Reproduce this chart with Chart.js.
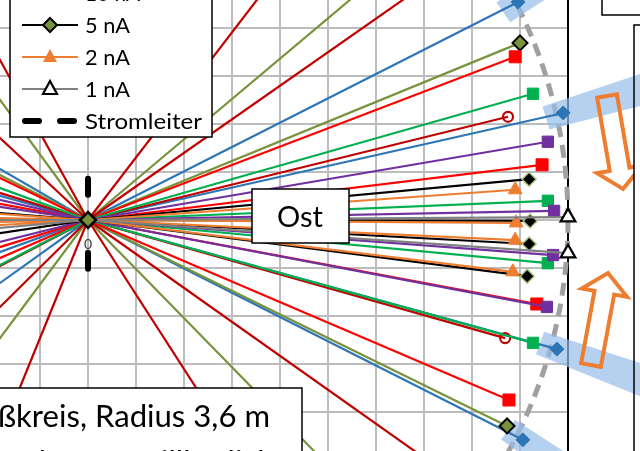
<!DOCTYPE html>
<html>
<head>
<meta charset="utf-8">
<script src="https://cdn.jsdelivr.net/npm/chart.js@4.4.1/dist/chart.umd.min.js"></script>
<style>
  html, body { margin: 0; padding: 0; background: #fff; }
</style>
</head>
<body>
<canvas id="c" width="640" height="451"></canvas>
<script>
// Endpunkte der Zeiger (Einheit = 1 Gitterkästchen, Meßkreis = 10 Kästchen = 3,6 m)
const blauOst = [[8.96, 4.54], [9.90, 2.23], [9.77, -2.69], [9.06, -4.58]];
const blauWest = [[-7.79, 4.51], [-8.68, 2.37], [-8.46, -3.08], [-7.32, -5.24]];
const olivOst = [[6.89, 5.79], [9.00, 3.69], [8.73, -4.29], [6.29, -6.43]];
const olivWest = [[-5.32, 7.26], [-8.01, 4.10], [-5.38, -7.22]];
const rotOst = [[8.90, 3.40], [9.46, 1.15], [9.35, -1.75], [8.77, -3.75]];
const rotWest = [[-8.12, 3.88], [-8.85, 1.61], [-8.60, -2.64], [-8.26, -3.57]];
const dunkelrotOst = [[5.48, 7.14], [7.38, 5.16], [8.75, 2.15], [8.69, -2.46], [7.35, -5.20], [4.87, -7.56]];
const dunkelrotWest = [[-4.34, 7.89], [-6.58, 6.13], [-8.60, 2.64], [-7.98, -4.17], [-6.40, -6.33], [-3.39, -8.34]];
const gruenOst = [[9.27, 2.63], [9.58, 0.40], [9.58, -0.90], [9.27, -2.56]];
const gruenWest = [[-8.46, 3.08], [-8.01, -4.10]];
const violettOst = [[9.58, 1.63], [9.71, 0.19], [9.69, -0.73], [9.56, -1.81]];
const violettWest = [[-8.78, 2.00], [-8.90, 1.33], [-8.73, -2.18]];
const schwarzOst = [[9.19, 0.85], [9.21, -0.02], [9.19, -0.50], [9.15, -1.17]];
const schwarzWest = [[-8.97, 0.71], [-8.90, -1.32]];
const orangeOst = [[8.90, 0.63], [8.92, -0.06], [8.90, -0.42], [8.85, -1.08]];
const orangeWest = [[-8.98, 0.61], [-9.00, 0.20], [-9.00, -0.20], [-8.99, -0.51]];
const grauOst = [[10.0, 0.06], [10.0, -0.69]];
const grauWest = [[-9.00, 0.00], [-8.98, -0.80]];
const stromleiterY = [0.86, -1.05];
const kreisRadius = 10;
const legendLabels = ['10 nA', '5 nA', '2 nA', '1 nA', 'Stromleiter'];

function endpunkte(list) {
    const out = [];
    list.forEach(p => {
        out.push({ x: 0, y: 0 }, { x: p[0], y: p[1] }, { x: null, y: null });
    });
    return out;
}

function serie(label, ost, west, color, marker) {
    return {
        label: label,
        data: endpunkte(ost.concat(west)),
        showLine: true,
        spanGaps: false,
        borderColor: color,
        borderWidth: 2.2,
        clip: false,
        pointStyle: marker.style,
        pointRadius: ctx => (ctx.raw && ctx.raw.x) ? marker.r : 0,
        pointHoverRadius: 0,
        pointBackgroundColor: marker.bg,
        pointBorderColor: marker.border,
        pointBorderWidth: marker.bw
    };
}

function fitText(ctx, text, x, y, px, w, align) {
    ctx.font = px + 'px Lato';
    const m = ctx.measureText(text).width;
    ctx.save();
    ctx.translate(x, y);
    ctx.scale(w / m, 1);
    ctx.textAlign = align || 'left';
    ctx.fillText(text, 0, 0);
    ctx.restore();
}

function pfeil(ctx, base, tip, shaftW, headW, headL) {
    const dx = tip[0] - base[0], dy = tip[1] - base[1];
    const len = Math.hypot(dx, dy);
    const ux = dx / len, uy = dy / len;
    const nx = -uy, ny = ux;
    const neck = [tip[0] - ux * headL, tip[1] - uy * headL];
    const pts = [
        [base[0] + nx * shaftW / 2, base[1] + ny * shaftW / 2],
        [neck[0] + nx * shaftW / 2, neck[1] + ny * shaftW / 2],
        [neck[0] + nx * headW / 2, neck[1] + ny * headW / 2],
        tip,
        [neck[0] - nx * headW / 2, neck[1] - ny * headW / 2],
        [neck[0] - nx * shaftW / 2, neck[1] - ny * shaftW / 2],
        [base[0] - nx * shaftW / 2, base[1] - ny * shaftW / 2]
    ];
    ctx.beginPath();
    pts.forEach((p, i) => i ? ctx.lineTo(p[0], p[1]) : ctx.moveTo(p[0], p[1]));
    ctx.closePath();
    ctx.stroke();
}

function kasten(ctx, x1, y1, x2, y2, fill) {
    if (fill !== false) {
        ctx.fillStyle = '#fff';
        ctx.fillRect(x1, y1, x2 - x1, y2 - y1);
    }
    ctx.strokeStyle = '#000';
    ctx.lineWidth = 1.5;
    ctx.strokeRect(x1, y1, x2 - x1, y2 - y1);
}

const deko = {
    id: 'deko',
    beforeDatasetsDraw(chart) {
        const ctx = chart.ctx;
        const xs = chart.scales.x, ys = chart.scales.y;
        const ox = xs.getPixelForValue(0), oy = ys.getPixelForValue(0);
        const area = chart.chartArea;
        ctx.save();

        // Achsenbeschriftung 0
        ctx.fillStyle = '#3a3a3a';
        ctx.font = '14px Lato';
        ctx.textAlign = 'center';
        ctx.textBaseline = 'middle';
        ctx.fillText('0', ox - 20, oy);
        ctx.fillText('0', ox, oy + 24);

        // rechter Rand der Zeichenfläche
        ctx.strokeStyle = '#000';
        ctx.lineWidth = 2;
        ctx.beginPath();
        ctx.moveTo(area.right, 0);
        ctx.lineTo(area.right, chart.height);
        ctx.stroke();

        // Meßkreis
        const r = xs.getPixelForValue(kreisRadius) - ox;
        ctx.strokeStyle = '#a0a0a0';
        ctx.lineWidth = 5;
        ctx.setLineDash([13, 8]);
        ctx.beginPath();
        ctx.arc(ox, oy, r, 0, Math.PI * 2);
        ctx.stroke();
        ctx.setLineDash([]);

        // blaue Bänder an den 10 nA Zeigern
        ctx.fillStyle = 'rgba(150, 190, 232, 0.7)';
        blauOst.forEach(p => {
            const px = xs.getPixelForValue(p[0]), py = ys.getPixelForValue(p[1]);
            const b = Math.atan2(py - oy, px - ox) * 1.3;
            const ux = Math.cos(b), uy = Math.sin(b), nx = -uy, ny = ux;
            const s = [px - ux * 18, py - uy * 18], e = [px + ux * 130, py + uy * 130];
            ctx.beginPath();
            ctx.moveTo(s[0] + nx * 12, s[1] + ny * 12);
            ctx.lineTo(e[0] + nx * 17, e[1] + ny * 17);
            ctx.lineTo(e[0] - nx * 17, e[1] - ny * 17);
            ctx.lineTo(s[0] - nx * 12, s[1] - ny * 12);
            ctx.closePath();
            ctx.fill();
        });

        // orange Pfeile
        ctx.strokeStyle = '#ED7D31';
        ctx.lineWidth = 4;
        ctx.lineJoin = 'miter';
        ctx.save();
        ctx.beginPath();
        ctx.rect(0, 0, 634, chart.height);
        ctx.clip();
        pfeil(ctx, [607, 96], [623, 189], 20, 46, 20);
        pfeil(ctx, [591, 365], [608, 273], 20, 46, 20);
        ctx.restore();

        // Textfelder rechts
        kasten(ctx, 602, -10, 650, 15, false);
        kasten(ctx, 634, 25, 660, 470, false);
        ctx.restore();
    },
    afterDatasetsDraw(chart) {
        const ctx = chart.ctx;
        ctx.save();
        ctx.fillStyle = '#000';
        ctx.textBaseline = 'alphabetic';

        // Ost
        kasten(ctx, 252, 189, 349, 243);
        ctx.fillStyle = '#000';
        fitText(ctx, 'Ost', 300, 227, 28, 46, 'center');

        // Meßkreis-Text
        kasten(ctx, -10, 388, 302, 480);
        ctx.fillStyle = '#000';
        ctx.font = '30px Lato';
        const wSub = ctx.measureText('ßkreis, Radius 3,6 m').width;
        const wFull = ctx.measureText('Meßkreis, Radius 3,6 m').width;
        const s = 272 / wSub;
        const x0 = 270 - wFull * s;
        fitText(ctx, 'Meßkreis, Radius 3,6 m', x0, 427, 30, wFull * s, 'left');
        const l2 = 'Zeigerlängen willkürlich';
        fitText(ctx, l2, x0, 473, 30, ctx.measureText(l2).width * s, 'left');

        // Legende
        kasten(ctx, 10, -40, 212, 137);
        const rows = [-7, 25, 57, 89, 121];
        const widths = [55, 45, 45, 45, 117];
        ctx.lineCap = 'butt';
        // 10 nA
        ctx.strokeStyle = '#2E75B6'; ctx.lineWidth = 2;
        ctx.beginPath(); ctx.moveTo(22, rows[0]); ctx.lineTo(78, rows[0]); ctx.stroke();
        // 5 nA
        ctx.strokeStyle = '#000';
        ctx.beginPath(); ctx.moveTo(22, rows[1]); ctx.lineTo(78, rows[1]); ctx.stroke();
        ctx.fillStyle = '#77933C'; ctx.lineWidth = 2;
        ctx.beginPath(); ctx.moveTo(50, rows[1] - 7); ctx.lineTo(57, rows[1]); ctx.lineTo(50, rows[1] + 7); ctx.lineTo(43, rows[1]); ctx.closePath(); ctx.fill(); ctx.stroke();
        // 2 nA
        ctx.strokeStyle = '#ED7D31'; ctx.lineWidth = 2;
        ctx.beginPath(); ctx.moveTo(22, rows[2]); ctx.lineTo(78, rows[2]); ctx.stroke();
        ctx.fillStyle = '#ED7D31';
        ctx.beginPath(); ctx.moveTo(50, rows[2] - 8); ctx.lineTo(57, rows[2] + 5); ctx.lineTo(43, rows[2] + 5); ctx.closePath(); ctx.fill();
        // 1 nA
        ctx.strokeStyle = '#808080';
        ctx.beginPath(); ctx.moveTo(22, rows[3]); ctx.lineTo(78, rows[3]); ctx.stroke();
        ctx.fillStyle = '#fff'; ctx.strokeStyle = '#000'; ctx.lineWidth = 2.2;
        ctx.beginPath(); ctx.moveTo(50, rows[3] - 8); ctx.lineTo(57, rows[3] + 5); ctx.lineTo(43, rows[3] + 5); ctx.closePath(); ctx.fill(); ctx.stroke();
        // Stromleiter
        ctx.strokeStyle = '#000'; ctx.lineWidth = 6; ctx.lineCap = 'round';
        ctx.beginPath(); ctx.moveTo(25, rows[4]); ctx.lineTo(39, rows[4]); ctx.moveTo(60, rows[4]); ctx.lineTo(74, rows[4]); ctx.stroke();
        ctx.fillStyle = '#000';
        legendLabels.forEach((t, i) => fitText(ctx, t, 85, rows[i] + 8, 21, widths[i], 'left'));
        ctx.restore();
    }
};

new Chart(document.getElementById('c'), {
    type: 'scatter',
    data: {
        datasets: [
            {
                label: 'Ursprung',
                data: [{ x: 0, y: 0 }],
                pointStyle: 'rectRot',
                pointRadius: 8,
                pointBackgroundColor: '#77933C',
                pointBorderColor: '#000',
                pointBorderWidth: 2.5,
                clip: false
            },
            serie('1 nA', grauOst, grauWest, '#808080', { style: 'triangle', r: 8.5, bg: '#fff', border: '#000', bw: 2.2 }),
            serie('2 nA', orangeOst, orangeWest, '#ED7D31', { style: 'triangle', r: 8, bg: '#ED7D31', border: '#ED7D31', bw: 1 }),
            serie('5 nA', schwarzOst, schwarzWest, '#000000', { style: 'rectRot', r: 7, bg: '#000', border: '#A9C47F', bw: 1.5 }),
            serie('violett', violettOst, violettWest, '#7030A0', { style: 'rect', r: 8, bg: '#7030A0', border: '#7030A0', bw: 1 }),
            serie('grün', gruenOst, gruenWest, '#00B050', { style: 'rect', r: 8, bg: '#00B050', border: '#00B050', bw: 1 }),
            serie('dunkelrot', dunkelrotOst, dunkelrotWest, '#C00000', { style: 'circle', r: 5, bg: 'rgba(255,255,255,0)', border: '#C00000', bw: 2.2 }),
            serie('rot', rotOst, rotWest, '#FF0000', { style: 'rect', r: 8.5, bg: '#FF0000', border: '#FF0000', bw: 1 }),
            serie('oliv', olivOst, olivWest, '#77933C', { style: 'rectRot', r: 7.5, bg: '#77933C', border: '#000', bw: 2 }),
            serie('10 nA', blauOst, blauWest, '#2E75B6', { style: 'rectRot', r: 7, bg: '#2E75B6', border: '#2E75B6', bw: 1 }),
            {
                label: 'Stromleiter',
                data: stromleiterY.map(y => ({ x: 0, y: y })),
                showLine: true,
                borderColor: '#000',
                borderWidth: 6,
                borderDash: [16, 58],
                borderCapStyle: 'round',
                pointRadius: 0,
                clip: false
            }
        ]
    },
    options: {
        responsive: false,
        animation: false,
        events: [],
        layout: { autoPadding: false, padding: { left: 0, right: 72, top: 0, bottom: 0 } },
        plugins: { legend: { display: false }, tooltip: { enabled: false } },
        scales: {
            x: {
                type: 'linear',
                min: -88 / 48,
                max: 10,
                afterFit: s => { s.height = 0; s.paddingLeft = 0; s.paddingRight = 0; },
                ticks: { display: false, stepSize: 1, includeBounds: false, padding: 0 },
                grid: { color: '#bdbdbd', lineWidth: 2, drawTicks: false },
                border: { display: false }
            },
            y: {
                type: 'linear',
                min: -231 / 48,
                max: 220 / 48,
                afterFit: s => { s.width = 0; s.paddingTop = 0; s.paddingBottom = 0; },
                ticks: { display: false, stepSize: 1, includeBounds: false, padding: 0 },
                grid: { color: '#bdbdbd', lineWidth: 2, drawTicks: false },
                border: { display: false }
            }
        }
    },
    plugins: [deko]
});
</script>
</body>
</html>
